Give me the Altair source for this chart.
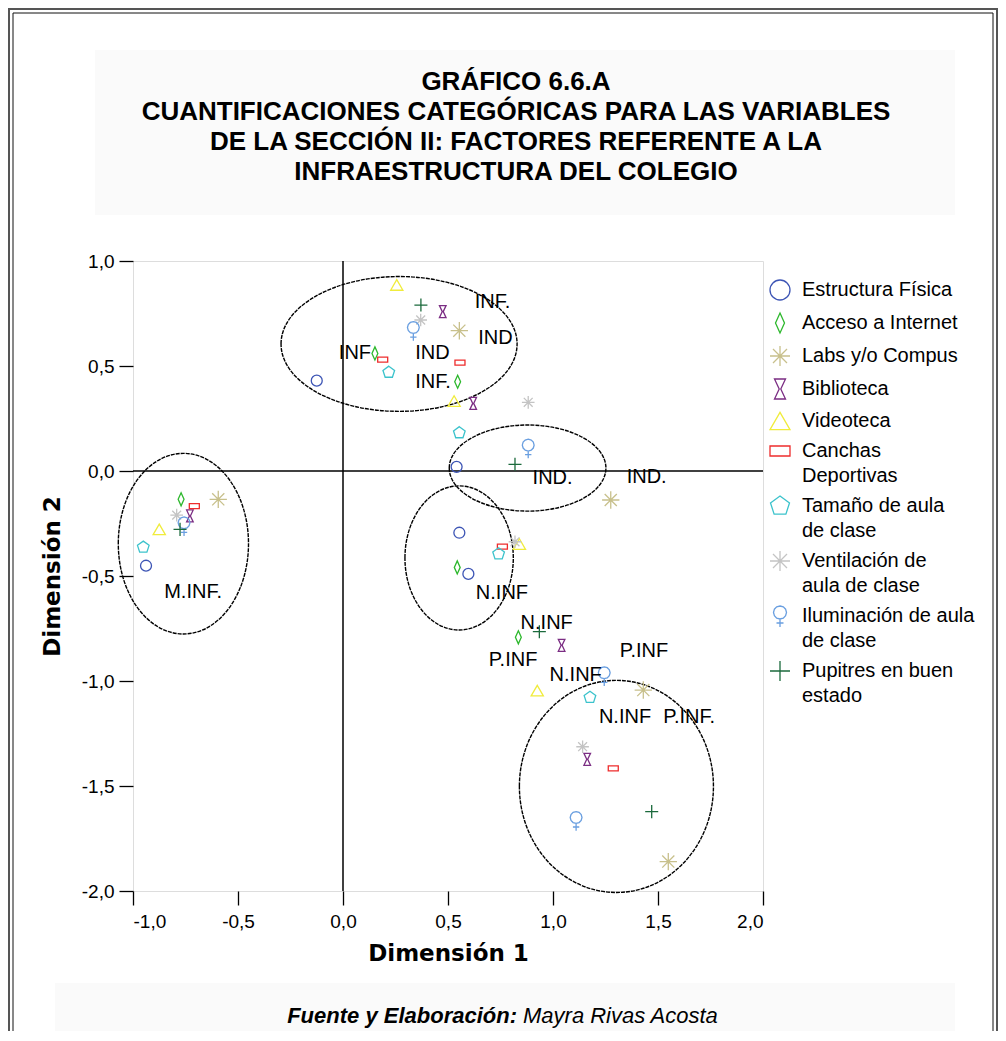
import altair as alt
import pandas as pd

# ---------------- data ----------------
categories = [
    "Estructura Física", "Acceso a Internet", "Labs y/o Compus", "Biblioteca",
    "Videoteca", "Canchas\nDeportivas", "Tamaño de aula\nde clase",
    "Ventilación de\naula de clase", "Iluminación de aula\nde clase",
    "Pupitres en buen\nestado",
]

estructura_x = [-0.125, 0.541, 0.554, 0.597, -0.938]
estructura_y = [0.430, 0.020, -0.294, -0.490, -0.451]
internet_x = [0.152, 0.546, 0.544, 0.835, -0.771]
internet_y = [0.560, 0.425, -0.459, -0.792, -0.135]
labs_x = [0.554, 1.275, 1.430, 1.549, -0.594]
labs_y = [0.668, -0.138, -1.043, -1.860, -0.135]
biblio_x = [0.475, 0.620, 1.041, 1.163, -0.729]
biblio_y = [0.759, 0.322, -0.830, -1.373, -0.214]
video_x = [0.256, 0.529, 0.840, 0.925, -0.875]
video_y = [0.886, 0.333, -0.348, -1.046, -0.278]
canchas_x = [0.189, 0.557, 0.759, 1.287, -0.708]
canchas_y = [0.530, 0.516, -0.360, -1.416, -0.167]
tamano_x = [0.218, 0.554, 0.741, 1.176, -0.951]
tamano_y = [0.470, 0.182, -0.395, -1.078, -0.363]
ventil_x = [0.370, 0.882, 0.819, 1.141, -0.792]
ventil_y = [0.719, 0.327, -0.337, -1.313, -0.210]
ilum_x = [0.335, 0.882, 1.244, 1.110, -0.757]
ilum_y = [0.668, 0.108, -0.976, -1.665, -0.262]
pupit_x = [0.371, 0.819, 0.935, 1.470, -0.776]
pupit_y = [0.790, 0.032, -0.765, -1.622, -0.278]

series_x = [estructura_x, internet_x, labs_x, biblio_x, video_x,
            canchas_x, tamano_x, ventil_x, ilum_x, pupit_x]
series_y = [estructura_y, internet_y, labs_y, biblio_y, video_y,
            canchas_y, tamano_y, ventil_y, ilum_y, pupit_y]

# annotation labels
label_text = ["INF.", "IND", "INF", "IND", "INF.", "IND.", "IND.", "N.INF",
              "N.INF", "P.INF", "N.INF", "P.INF", "N.INF", "P.INF.", "M.INF."]
label_x = [0.712, 0.726, 0.057, 0.426, 0.429, 0.998, 1.446, 0.757,
           0.970, 0.810, 1.108, 1.433, 1.343, 1.648, -0.714]
label_y = [0.806, 0.632, 0.560, 0.560, 0.425, -0.035, -0.030, -0.583,
           -0.722, -0.900, -0.971, -0.856, -1.170, -1.170, -0.575]

# ellipses drawn around groups (centre and radii in data units)
ell_cx = [0.267, 0.879, 0.553, -0.760, 1.302]
ell_cy = [0.605, 0.014, -0.414, -0.346, -1.502]
ell_rx = [0.562, 0.373, 0.258, 0.310, 0.462]
ell_ry = [0.321, 0.205, 0.343, 0.430, 0.505]

x_ticks = [-1.0, -0.5, 0.0, 0.5, 1.0, 1.5, 2.0]
y_ticks = [-2.0, -1.5, -1.0, -0.5, 0.0, 0.5, 1.0]

title_lines = [
    "GRÁFICO 6.6.A",
    "CUANTIFICACIONES CATEGÓRICAS PARA LAS VARIABLES",
    "DE LA SECCIÓN II: FACTORES REFERENTE A LA",
    "INFRAESTRUCTURA DEL COLEGIO",
]

# ---------------- styles ----------------
colors = ["#3d55b5", "#2db82d", "#c8c08c", "#7b2d83", "#f0ec3c",
          "#ee2c2c", "#3cc3cc", "#c4c4c4", "#6a9fe0", "#1b6a3c"]
venus = ("M0,-1L0.33,-0.91L0.56,-0.68L0.65,-0.35L0.56,-0.03L0.33,0.21L0,0.3"
         "L-0.33,0.21L-0.56,-0.03L-0.65,-0.35L-0.56,-0.68L-0.33,-0.91Z"
         "M0,0.3L0,1.1M-0.35,0.7L0.35,0.7")
shapes = [
    "circle",
    "M0,-1L0.45,0L0,1L-0.45,0Z",
    "M-1,0L1,0M0,-1L0,1M-0.7,-0.7L0.7,0.7M-0.7,0.7L0.7,-0.7",
    "M-0.55,-1L0.55,-1L0.08,0L0.55,1L-0.55,1L-0.08,0Z",
    "triangle-up",
    "M-1,-0.5L1,-0.5L1,0.5L-1,0.5Z",
    "M0,-1L0.95,-0.31L0.59,0.81L-0.59,0.81L-0.95,-0.31Z",
    "M-1,0L1,0M0,-1L0,1M-0.7,-0.7L0.7,0.7M-0.7,0.7L0.7,-0.7",
    venus,
    "M-1,0L1,0M0,-1L0,1",
]
sizes = [120, 170, 300, 144, 150, 100, 150, 160, 330, 170]

W, H = 630, 630
PX = W / 3.0  # pixels per data unit

# ---------------- tables ----------------
rows = []
for cat, sz, xs, ys in zip(categories, sizes, series_x, series_y):
    for xv, yv in zip(xs, ys):
        rows.append({"x": xv, "y": yv, "serie": cat, "msize": sz})
pts = pd.DataFrame(rows)

labels_df = pd.DataFrame({"x": label_x, "y": label_y, "t": label_text})

zero_x = pd.DataFrame({"x": [0.0]})
zero_y = pd.DataFrame({"y": [0.0]})

tick_expr = ("(datum.value < 0 ? '-' : '') + "
             "replace(format(abs(datum.value), '.1f'), '.', ',')")

X = alt.X("x:Q", scale=alt.Scale(domain=[-1, 2], nice=False, zero=False),
          axis=alt.Axis(values=x_ticks, labelExpr=tick_expr, title="Dimensión 1",
                        grid=False, domain=False, tickSize=14, tickWidth=1.3,
                        tickColor="black", labelPadding=7, labelFontSize=19,
                        labelFont="Liberation Sans", labelColor="black",
                        titleFont="DejaVu Sans", titleFontSize=23,
                        titleFontWeight="bold", titleColor="black",
                        titlePadding=11))
Y = alt.Y("y:Q", scale=alt.Scale(domain=[-2, 1], nice=False, zero=False),
          axis=alt.Axis(values=y_ticks, labelExpr=tick_expr, title="Dimensión 2",
                        grid=False, domain=False, tickSize=14, tickWidth=1.3,
                        tickColor="black", labelPadding=5, labelFontSize=19,
                        labelFont="Liberation Sans", labelColor="black",
                        titleFont="DejaVu Sans", titleFontSize=23,
                        titleFontWeight="bold", titleColor="black",
                        titlePadding=17))

legend = alt.Legend(title=None, orient="none", legendX=636, legendY=18,
                    padding=0, symbolSize=400, symbolStrokeWidth=1.3,
                    labelFontSize=20, labelFont="Liberation Sans",
                    labelColor="black", labelLimit=320, rowPadding=7,
                    labelOffset=11)

# ---------------- decorations ----------------
title_box = alt.Chart(zero_x).mark_rect(color="#fafafa").encode(
    x=alt.value(-38), x2=alt.value(822), y=alt.value(-211), y2=alt.value(-46))
foot_box = alt.Chart(zero_x).mark_rect(color="#fafafa").encode(
    x=alt.value(-78), x2=alt.value(822), y=alt.value(722), y2=alt.value(780))
frame_out = alt.Chart(zero_x).mark_rect(filled=False, stroke="#555555",
                                         strokeWidth=2).encode(
    x=alt.value(-124), x2=alt.value(864), y=alt.value(-252), y2=alt.value(800))
frame_in = alt.Chart(zero_x).mark_rect(filled=False, stroke="#111111",
                                        strokeWidth=1).encode(
    x=alt.value(-120), x2=alt.value(860), y=alt.value(-248), y2=alt.value(800))

title_txt = alt.Chart(zero_x).mark_text(
    text=title_lines, font="Liberation Sans", fontSize=26, fontWeight="bold",
    lineHeight=30, align="center", baseline="alphabetic", color="black"
).encode(x=alt.value(383), y=alt.value(-171))

rule_x = alt.Chart(zero_x).mark_rule(color="black", strokeWidth=1.5).encode(x=X)
rule_y = alt.Chart(zero_y).mark_rule(color="black", strokeWidth=1.5).encode(y=Y)

# one layer per ellipse: centre through the scales, outline as a symbol path
ellipse_layers = []
for cx, cy, rx, ry in zip(ell_cx, ell_cy, ell_rx, ell_ry):
    k = ry / rx
    path = f"M-1,0A1,{k:.4f} 0 1 1 1,0A1,{k:.4f} 0 1 1 -1,0Z"
    ellipse_layers.append(
        alt.Chart(pd.DataFrame({"x": [cx], "y": [cy]})).mark_point(
            filled=False, color="black", strokeWidth=1.4, strokeDash=[4, 1],
            opacity=1, shape=path, size=(2 * rx * PX) ** 2,
        ).encode(x=X, y=Y)
    )

points = alt.Chart(pts).mark_point(filled=False, strokeWidth=1.3, opacity=1).encode(
    x=X, y=Y,
    color=alt.Color("serie:N", scale=alt.Scale(domain=categories, range=colors),
                    sort=categories, legend=legend),
    shape=alt.Shape("serie:N", scale=alt.Scale(domain=categories, range=shapes),
                    sort=categories, legend=legend),
    size=alt.Size("msize:Q", scale=None),
)

texts = alt.Chart(labels_df).mark_text(
    font="Liberation Sans", fontSize=20, color="black", align="center",
    baseline="middle").encode(x=X, y=Y, text="t:N")

foot_bold = alt.Chart(zero_x).mark_text(
    text="Fuente y Elaboración:", font="Liberation Sans", fontSize=22,
    fontStyle="italic", fontWeight="bold", align="right",
    baseline="alphabetic", color="black").encode(x=alt.value(384), y=alt.value(762))
foot_reg = alt.Chart(zero_x).mark_text(
    text="Mayra Rivas Acosta", font="Liberation Sans", fontSize=22,
    fontStyle="italic", align="left", baseline="alphabetic",
    color="black").encode(x=alt.value(390), y=alt.value(762))

chart = alt.layer(
    title_box, foot_box, frame_out, frame_in, title_txt, rule_x, rule_y,
    *ellipse_layers, points, texts, foot_bold, foot_reg,
).properties(
    width=W, height=H,
    padding={"left": 125, "top": 253, "right": 235, "bottom": 140},
    autosize=alt.AutoSizeParams(type="none"),
).configure_view(stroke="black", strokeWidth=1.5).configure(
    background="white",
    style={"guide-label": {"lineBreak": "\n", "lineHeight": 25}},
)

chart.save("out.html", embed_options={"renderer": "svg", "actions": False})
